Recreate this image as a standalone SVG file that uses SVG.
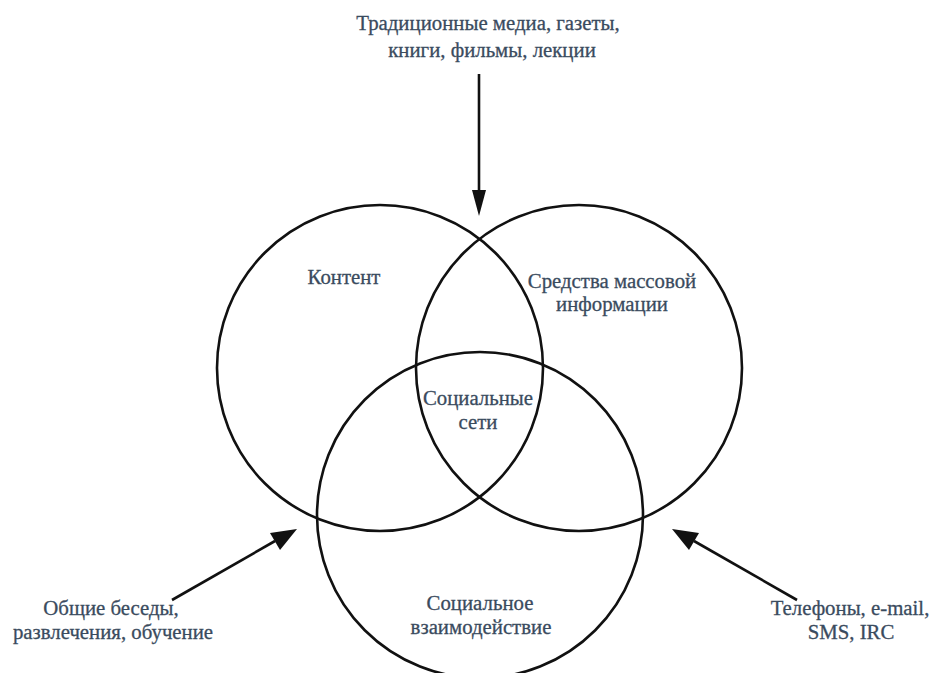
<svg xmlns="http://www.w3.org/2000/svg" width="931" height="673" viewBox="0 0 931 673">
<style>
.c{fill:none;stroke:#111;stroke-width:2.6}
.a{stroke:#111;stroke-width:2.6;fill:none}
.t{font-family:"Liberation Serif","DejaVu Serif",serif;font-size:20.8px;fill:#3a4b5e;text-anchor:middle;stroke:#3a4b5e;stroke-width:0.3}
</style>
<rect width="931" height="673" fill="#fff"/>
<g id="content">
<circle class="c" cx="380" cy="368" r="163"/>
<text class="t" x="344" y="284">Контент</text>
</g>
<g id="media">
<circle class="c" cx="579" cy="368" r="163"/>
<text class="t" x="612" y="288">Средства массовой</text>
<text class="t" x="612" y="311">информации</text>
</g>
<g id="interaction">
<circle class="c" cx="480" cy="515" r="163"/>
<text class="t" x="480" y="610">Социальное</text>
<text class="t" x="481" y="634">взаимодействие</text>
</g>
<g id="networks">
<text class="t" x="478" y="405">Социальные</text>
<text class="t" x="478" y="429">сети</text>
</g>
<g id="connectors">
<line class="a" x1="479" y1="74" x2="479" y2="190"/>
<path d="M472,190 L486,190 L479,216 Z" fill="#111"/>
<line class="a" x1="172" y1="600" x2="275" y2="541"/>
<path d="M270,533 L280,550 L297,529 Z" fill="#111"/>
<line class="a" x1="797" y1="600" x2="694" y2="541"/>
<path d="M689,550 L699,533 L672,529 Z" fill="#111"/>
</g>
<g id="label-top">
<text class="t" x="488" y="30">Традиционные медиа, газеты,</text>
<text class="t" x="492" y="57">книги, фильмы, лекции</text>
</g>
<g id="label-left">
<text class="t" x="111" y="615">Общие беседы,</text>
<text class="t" x="113" y="639">развлечения, обучение</text>
</g>
<g id="label-right">
<text class="t" x="850" y="615">Телефоны, e-mail,</text>
<text class="t" x="851" y="639">SMS, IRC</text>
</g>
</svg>
